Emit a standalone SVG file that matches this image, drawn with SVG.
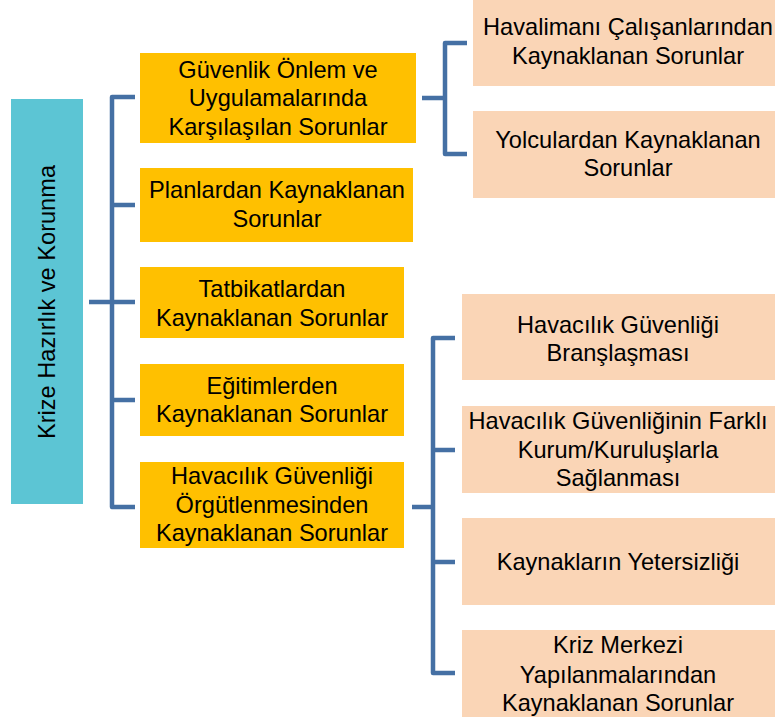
<svg xmlns="http://www.w3.org/2000/svg" width="775" height="722" viewBox="0 0 775 722">
<style>
text{font-family:"Liberation Sans",Arial,sans-serif;font-size:23.6px;fill:#000;text-anchor:middle;dominant-baseline:central}
.root{fill:#5CC5D4}
.y{fill:#FFC000}
.p{fill:#FAD5B6}
.c{fill:none;stroke:#4570A4;stroke-width:4.5;stroke-linejoin:round}
</style>
<rect width="775" height="722" fill="#fff"/>
<g id="connectors">
<path class="c" d="M89 302H112M135 97H112V507H135M112 205H135M112 302H135M112 400H135"/>
<path class="c" d="M422 98H445M467 43H445V154H467"/>
<path class="c" d="M412 507H433M455 338H433V673H455M433 450H455M433 562H455"/>
</g>
<g id="root"><rect class="root" x="11" y="99" width="72" height="405"/>
<text transform="translate(47 302) rotate(-90)">Krize Hazırlık ve Korunma</text></g>
<g id="n1"><rect class="y" x="140" y="53" width="276" height="90"/>
<text x="278" y="70">Güvenlik Önlem ve</text><text x="278" y="98">Uygulamalarında</text><text x="278" y="127">Karşılaşılan Sorunlar</text></g>
<g id="n2"><rect class="y" x="140" y="168" width="273" height="74"/>
<text x="277" y="190">Planlardan Kaynaklanan</text><text x="277" y="219">Sorunlar</text></g>
<g id="n3"><rect class="y" x="140" y="267" width="264" height="71"/>
<text x="272" y="289">Tatbikatlardan</text><text x="272" y="318">Kaynaklanan Sorunlar</text></g>
<g id="n4"><rect class="y" x="140" y="364" width="264" height="72"/>
<text x="272" y="386">Eğitimlerden</text><text x="272" y="414">Kaynaklanan Sorunlar</text></g>
<g id="n5"><rect class="y" x="140" y="462" width="264" height="86"/>
<text x="272" y="476">Havacılık Güvenliği</text><text x="272" y="505">Örgütlenmesinden</text><text x="272" y="533">Kaynaklanan Sorunlar</text></g>
<g id="a"><rect class="p" x="473" y="0" width="302" height="86"/>
<text x="628" y="27">Havalimanı Çalışanlarından</text><text x="628" y="56">Kaynaklanan Sorunlar</text></g>
<g id="b"><rect class="p" x="473" y="111" width="302" height="87"/>
<text x="628" y="140">Yolculardan Kaynaklanan</text><text x="628" y="168">Sorunlar</text></g>
<g id="c"><rect class="p" x="462" y="294" width="313" height="86"/>
<text x="618" y="325">Havacılık Güvenliği</text><text x="618" y="353">Branşlaşması</text></g>
<g id="d"><rect class="p" x="462" y="406" width="313" height="87"/>
<text x="618" y="421">Havacılık Güvenliğinin Farklı</text><text x="618" y="450">Kurum/Kuruluşlarla</text><text x="618" y="478">Sağlanması</text></g>
<g id="e"><rect class="p" x="462" y="518" width="313" height="87"/>
<text x="618" y="562">Kaynakların Yetersizliği</text></g>
<g id="f"><rect class="p" x="462" y="630" width="313" height="87"/>
<text x="618" y="645">Kriz Merkezi</text><text x="618" y="675">Yapılanmalarından</text><text x="618" y="703">Kaynaklanan Sorunlar</text></g>
</svg>
